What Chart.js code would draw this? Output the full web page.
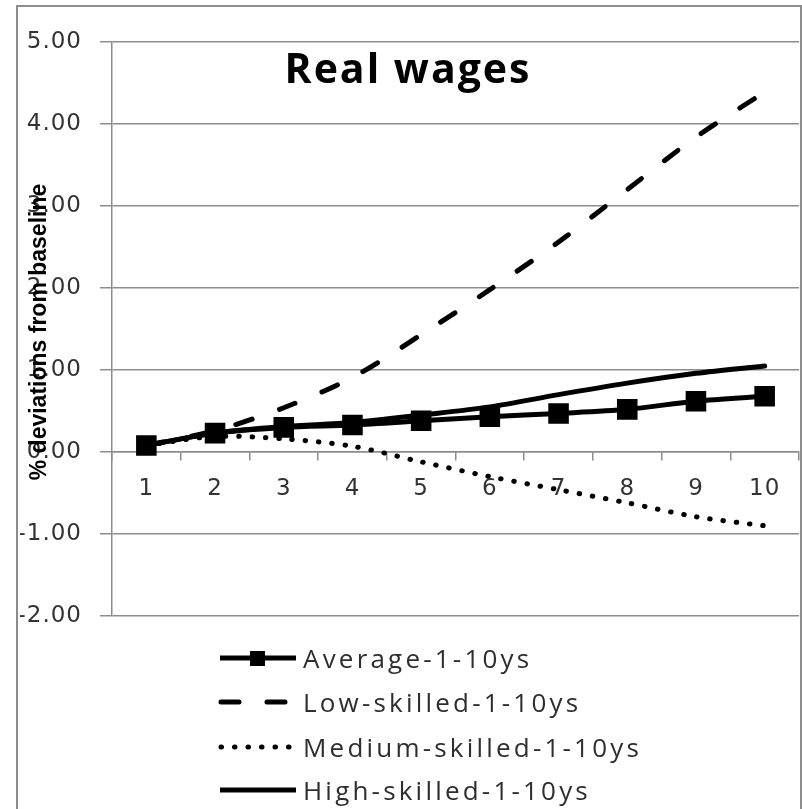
<!DOCTYPE html>
<html>
<head>
<meta charset="utf-8">
<script src="https://cdn.jsdelivr.net/npm/chart.js@4.4.1/dist/chart.umd.min.js"></script>
<style>
  html, body { margin: 0; padding: 0; background: #fff; }
  #wrap { position: relative; width: 802px; height: 809px; overflow: hidden; }
  #frame { position: absolute; left: 16px; top: 5px; width: 782px; height: 820px; border: 2px solid #8c8c8c; }
  #chart { position: absolute; left: 0; top: 0; }
  .leg { position: absolute; left: 218px; height: 24px; display: flex; align-items: center;
         font-family: "Open Sans", sans-serif; font-size: 26px; letter-spacing: 3.2px; color: #2e2e2e; }
  .leg svg { margin-right: 5px; }
</style>
</head>
<body>
<div id="wrap">
  <div id="frame"></div>
  <!-- a bit wider than the page: the label overhang Chart.js keeps on the right falls outside -->
  <canvas id="chart" width="815" height="809"></canvas>
  <div id="legend"></div>
</div>
<script>
// categories (years)
const years = ["1", "2", "3", "4", "5", "6", "7", "8", "9", "10"];

// % deviations from baseline
const average = [0.08, 0.23, 0.30, 0.33, 0.38, 0.43, 0.47, 0.52, 0.62, 0.68];
const lowSkilled = [0.08, 0.26, 0.54, 0.91, 1.43, 1.98, 2.56, 3.20, 3.84, 4.39];
const mediumSkilled = [0.08, 0.19, 0.16, 0.07, -0.12, -0.30, -0.46, -0.62, -0.79, -0.90];
const highSkilled = [0.08, 0.23, 0.31, 0.36, 0.45, 0.55, 0.70, 0.84, 0.96, 1.05];

const seriesNames = ["Average-1-10ys", "Low-skilled-1-10ys", "Medium-skilled-1-10ys", "High-skilled-1-10ys"];
const yTicks = [-2, -1, 0, 1, 2, 3, 4, 5];

const gridGray = "#8c8c8c";
const tickColor = "#333";
const tickFont = { family: "'DejaVu Sans', sans-serif", size: 23 };

// title + rotated axis title, drawn over the plot like the original
const overlayText = {
  id: "overlayText",
  beforeDraw(chart) {
    chart.ctx.letterSpacing = "1px";
  },
  afterDraw(chart) {
    const ctx = chart.ctx;
    const a = chart.chartArea;
    ctx.save();
    ctx.fillStyle = "#000";
    ctx.letterSpacing = "2px";
    ctx.font = "bold 41px 'Open Sans'";
    ctx.textAlign = "center";
    ctx.textBaseline = "alphabetic";
    ctx.fillText("Real wages", 408, a.top + 41);

    ctx.letterSpacing = "0px";
    ctx.translate(40, 332);
    ctx.rotate(-Math.PI / 2);
    ctx.font = "bold 23px 'Liberation Sans'";
    ctx.textBaseline = "middle";
    ctx.fillText("% deviations from baseline", 0, 0);
    ctx.restore();
  }
};

// the x axis sits on the zero line, so it should not push the plot inwards
const noPad = () => ({ left: 0, top: 0, right: 0, bottom: 0 });

const common = { fill: false, tension: 0.3, borderColor: "#000", borderWidth: 5, pointRadius: 0, borderCapStyle: "round" };

new Chart(document.getElementById("chart"), {
  type: "line",
  data: {
    labels: years,
    datasets: [
      { ...common, label: seriesNames[0], data: average, pointRadius: 11, pointStyle: "rect",
        pointBackgroundColor: "#000", pointBorderColor: "#000", borderCapStyle: "butt" },
      { ...common, label: seriesNames[1], data: lowSkilled, borderDash: [17, 29] },
      { ...common, label: seriesNames[2], data: mediumSkilled, borderDash: [0.5, 12.8] },
      { ...common, label: seriesNames[3], data: highSkilled }
    ]
  },
  options: {
    responsive: false,
    animation: false,
    layout: { padding: { left: 20, top: 42, right: 4, bottom: 193 } },
    plugins: { legend: { display: false }, tooltip: { enabled: false } },
    scales: {
      x: {
        type: "category",
        position: { y: 0 },
        offset: true,
        afterFit(scale) { scale.paddingLeft = 0; scale.paddingRight = 0; scale.getPadding = noPad; },
        grid: { offset: true, drawOnChartArea: false, drawTicks: true, tickLength: 8, color: gridGray, lineWidth: 1.5 },
        border: { display: true, color: gridGray, width: 1.5 },
        ticks: { color: tickColor, font: tickFont, padding: 15, maxRotation: 0 }
      },
      y: {
        min: -2, max: 5,
        afterFit(scale) { scale.width = 92; scale.paddingLeft = 0; scale.paddingRight = 0; },
        afterBuildTicks(scale) { scale.ticks = yTicks.map(v => ({ value: v })); },
        grid: { color: gridGray, lineWidth: 1.5, tickLength: 12 },
        border: { color: gridGray, width: 1.5 },
        ticks: { color: tickColor, font: tickFont, padding: 18,
                 callback: v => v.toFixed(2) }
      }
    }
  },
  plugins: [overlayText]
});

// vertical legend under the plot
const legendRows = [
  { name: seriesNames[0], y: 646, sample: '<line x1="2" y1="12" x2="78" y2="12" stroke="#000" stroke-width="5"/><rect x="32" y="5" width="15" height="15" fill="#000"/>' },
  { name: seriesNames[1], y: 690, sample: '<line x1="3" y1="12" x2="78" y2="12" stroke="#000" stroke-width="5" stroke-linecap="round" stroke-dasharray="18 28"/>' },
  { name: seriesNames[2], y: 735, sample: '<line x1="3" y1="12" x2="78" y2="12" stroke="#000" stroke-width="5" stroke-linecap="round" stroke-dasharray="0.5 13"/>' },
  { name: seriesNames[3], y: 778, sample: '<line x1="2" y1="12" x2="78" y2="12" stroke="#000" stroke-width="5"/>' }
];
const legendEl = document.getElementById("legend");
legendRows.forEach(r => {
  const d = document.createElement("div");
  d.className = "leg";
  d.style.top = r.y + "px";
  d.innerHTML = '<svg width="80" height="24">' + r.sample + '</svg><span>' + r.name + '</span>';
  legendEl.appendChild(d);
});
</script>
</body>
</html>
